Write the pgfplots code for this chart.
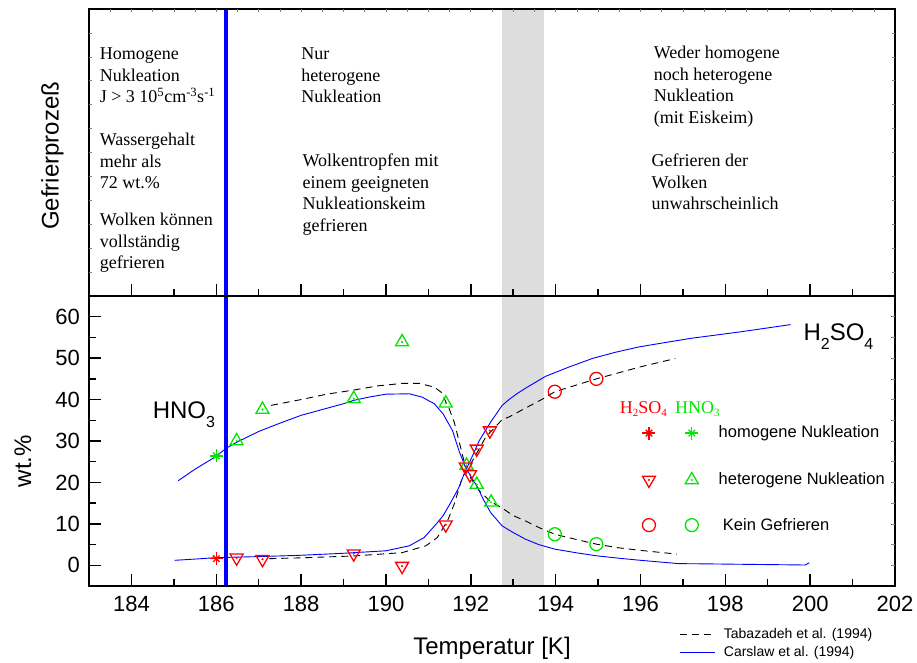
\documentclass[border=0pt]{standalone}
\usepackage{fontspec}
\setmainfont{Liberation Sans}
\newfontfamily\tnr{Liberation Serif}
\usepackage{pgfplots}
\usepackage{pgfplotstable}
\pgfplotsset{compat=1.18}
\definecolor{mygreen}{RGB}{0,230,0}
\definecolor{myred}{RGB}{255,0,0}
\definecolor{myblue}{RGB}{0,0,255}
\definecolor{band}{RGB}{221,221,221}
\newcommand{\toptext}{\tnr\fontsize{18}{21.5}\selectfont}

% Carslaw et al. (1994), HNO3
\pgfplotstableread{
x y
185.10 20.4
185.50 23.2
186.00 26.3
186.24 28.3
186.50 29.8
187.00 32.3
187.50 34.3
188.00 36.2
188.50 37.6
189.00 39.0
189.24 39.8
189.60 40.6
190.00 41.3
190.55 41.4
190.85 40.6
191.14 39.0
191.35 36.5
191.57 32.5
191.72 27.7
191.86 24.0
192.00 21.5
192.16 18.8
192.30 15.8
192.47 12.7
192.74 9.5
193.00 7.9
193.29 6.3
193.60 5.0
193.98 3.9
194.50 3.0
194.96 2.3
195.50 1.7
196.00 1.2
196.90 0.4
197.50 0.35
198.40 0.24
199.20 0.15
199.88 0.07
199.98 0.6
}\carHNO
% Carslaw et al. (1994), H2SO4
\pgfplotstableread{
x y
185.02 1.2
185.50 1.5
186.00 1.85
187.00 2.1
187.96 2.4
189.00 2.9
190.00 3.5
190.55 4.7
190.90 6.7
191.18 9.9
191.35 12.0
191.53 15.2
191.72 18.8
191.86 22.5
192.00 25.5
192.20 30.1
192.47 34.6
192.74 38.6
192.90 40.0
193.10 41.5
193.30 42.8
193.76 45.6
194.30 47.8
194.86 49.9
195.40 51.4
195.96 52.7
196.60 53.8
197.20 54.8
197.80 55.6
198.39 56.4
199.00 57.3
199.54 58.1
}\carHSO
% Tabazadeh et al. (1994), HNO3
\pgfplotstableread{
x y
187.29 38.6
188.00 40.0
188.60 41.3
189.24 42.3
189.80 43.3
190.38 43.9
190.79 43.9
191.14 43.0
191.30 41.8
191.49 37.8
191.61 34.5
191.72 30.1
191.80 26.8
191.88 23.6
192.00 21.0
192.20 18.0
192.45 15.5
192.74 13.8
193.00 12.0
193.29 10.7
193.61 9.1
193.98 7.5
194.50 6.2
194.96 5.1
195.50 4.2
196.00 3.6
196.86 2.7
}\tabHNO
% Tabazadeh et al. (1994), H2SO4
\pgfplotstableread{
x y
187.25 1.6
188.00 1.8
189.24 2.25
190.38 3.05
190.94 4.7
191.21 6.7
191.45 10.7
191.61 14.8
191.80 21.2
192.00 24.5
192.35 30.9
192.74 35.2
192.90 35.8
193.30 38.0
193.76 40.5
193.98 41.9
194.96 45.0
196.00 47.9
196.82 49.9
}\tabHSO
% measurements
\pgfplotstableread{
x y
186.48 30.0
187.09 37.6
189.24 40.2
190.38 53.9
191.41 39.1
191.90 24.1
192.14 19.5
192.48 15.2
197.21 20.6
}\greenHet
\pgfplotstableread{
x y
186.48 1.8
187.09 1.45
189.24 2.8
190.38 -0.2
191.41 9.8
191.88 23.8
191.98 21.9
192.14 28.1
192.45 32.5
196.20 20.6
}\redHet
\pgfplotstableread{
x y
186.00 26.4
197.21 31.9
}\greenHom
\pgfplotstableread{
x y
186.00 1.6
196.20 31.9
}\redHom
\pgfplotstableread{
x y
193.98 7.5
194.96 5.1
197.21 9.7
}\greenNo
\pgfplotstableread{
x y
193.98 41.9
194.96 45.0
196.20 9.7
}\redNo

\begin{document}
\begin{tikzpicture}[x=1pt,y=1pt]
\useasboundingbox (0,0) rectangle (917,662);

% ---------- bottom panel ----------
\begin{axis}[
  at={(89pt,76pt)}, anchor=south west,
  scale only axis, width=806pt, height=290pt,
  xmin=183, xmax=202, ymin=-5, ymax=65,
  axis on top,
  xtick={184,186,...,202},
  minor xtick={183,185,...,201},
  ytick={0,10,...,60},
  minor ytick={5,15,...,55},
  xtick pos=bottom, ytick pos=left,
  tick align=inside,
  major tick length=12pt, minor tick length=7pt,
  tick style={black, line width=1.5pt},
  axis line style={line width=2pt},
  /pgf/number format/assume math mode=true,
  tick label style={font=\fontsize{22}{26}\selectfont},
  xticklabel style={yshift=-6.7pt},
  yticklabel style={xshift=-5.7pt},
  xlabel={Temperatur [K]},
  ylabel={wt.\%},
  label style={font=\fontsize{24}{28}\selectfont},
  xlabel style={at={(axis description cs:0.5,0)}, anchor=base, yshift=-68pt},
  ylabel style={at={(axis description cs:-0.0819,0.431)}, anchor=center},
  legend cell align=left,
  legend image code/.code={\draw[#1] (0pt,0pt) -- (35pt,0pt);},
  legend style={at={(axis description cs:0.733,-0.197)}, anchor=west,
    draw=none, fill=none, inner sep=0pt, row sep=4pt, column sep=7pt,
    nodes={inner sep=1pt}, font=\fontsize{14}{16}\selectfont},
]
\fill[band] (axis cs:192.74,-5) rectangle (axis cs:193.72,65);
\addplot[black, line width=0.9pt, dash pattern=on 7pt off 5pt] table {\tabHNO};
\addlegendentry{Tabazadeh et al. (1994)}
\addplot[myblue, line width=0.9pt] table {\carHNO};
\addlegendentry{Carslaw et al. (1994)}
\addplot[black, line width=0.9pt, dash pattern=on 7pt off 5pt, forget plot] table {\tabHSO};
\addplot[myblue, line width=0.9pt, forget plot] table {\carHSO};
% markers
\addplot[only marks, mygreen, mark=triangle, mark size=7.5pt, mark options={line width=1.3pt}, forget plot] table {\greenHet};
\addplot[only marks, mygreen, mark=*, mark size=0.8pt, forget plot] table {\greenHet};
\addplot[only marks, myred, mark=triangle, mark size=7.5pt, mark options={line width=1.3pt, rotate=180}, forget plot] table {\redHet};
\addplot[only marks, myred, mark=*, mark size=0.8pt, forget plot] table {\redHet};
\addplot[only marks, mygreen, mark=+, mark size=6.5pt, mark options={line width=1.3pt}, forget plot] table {\greenHom};
\addplot[only marks, mygreen, mark=x, mark size=4.6pt, mark options={line width=1.3pt}, forget plot] table {\greenHom};
\addplot[only marks, myred, mark=+, mark size=6.5pt, mark options={line width=1.3pt}, forget plot] table {\redHom};
\addplot[only marks, myred, mark=x, mark size=4.6pt, mark options={line width=1.3pt}, forget plot] table {\redHom};
\addplot[only marks, mygreen, mark=o, mark size=6.5pt, mark options={line width=1.3pt}, forget plot] table {\greenNo};
\addplot[only marks, myred, mark=o, mark size=6.5pt, mark options={line width=1.3pt}, forget plot] table {\redNo};
% vertical line
\draw[myblue, line width=4pt] (axis cs:186.24,-5) -- (axis cs:186.24,65);
% labels
\node[anchor=base west, inner sep=0pt, font=\fontsize{24}{28}\selectfont] at (axis cs:184.50,35.4)
  {HNO\raisebox{-8.5pt}{\fontsize{16}{16}\selectfont 3}};
\node[anchor=base west, inner sep=0pt, font=\fontsize{24}{28}\selectfont] at (axis cs:199.84,54.2)
  {H\raisebox{-8.5pt}{\fontsize{16}{16}\selectfont 2}SO\raisebox{-8.5pt}{\fontsize{16}{16}\selectfont 4}};
\node[anchor=base west, inner sep=0pt, font=\tnr\fontsize{18}{20}\selectfont, text=myred] at (axis cs:195.51,36.7)
  {H\raisebox{-3pt}{\fontsize{11}{11}\selectfont 2}SO\raisebox{-3pt}{\fontsize{11}{11}\selectfont 4}};
\node[anchor=base west, inner sep=0pt, font=\tnr\fontsize{18}{20}\selectfont, text=mygreen] at (axis cs:196.81,36.7)
  {HNO\raisebox{-3pt}{\fontsize{11}{11}\selectfont 3}};
\node[anchor=base west, inner sep=0pt, font=\fontsize{16.5}{20}\selectfont] at (axis cs:197.84,30.8) {homogene Nukleation};
\node[anchor=base west, inner sep=0pt, font=\fontsize{16.5}{20}\selectfont] at (axis cs:197.84,19.6) {heterogene Nukleation};
\node[anchor=base west, inner sep=0pt, font=\fontsize{16.5}{20}\selectfont] at (axis cs:197.94,8.5) {Kein Gefrieren};
\end{axis}

% faint right ticks of bottom panel
\begin{axis}[
  at={(89pt,76pt)}, anchor=south west,
  scale only axis, width=806pt, height=290pt,
  xmin=183, xmax=202, ymin=-5, ymax=65,
  axis line style={draw=none},
  xtick=\empty, ytick={0,5,...,60}, ytick pos=right, yticklabels={},
  tick align=inside, major tick length=4pt,
  tick style={gray, line width=0.7pt},
]
\end{axis}

% ---------- top panel ----------
\begin{axis}[
  at={(89pt,366pt)}, anchor=south west,
  scale only axis, width=806pt, height=287pt,
  xmin=183, xmax=202, ymin=0, ymax=287,
  axis on top,
  xtick={184,186,...,202},
  minor xtick={183,185,...,201},
  xticklabels={},
  xtick pos=bottom,
  ytick=\empty,
  tick align=inside,
  major tick length=12pt, minor tick length=7pt,
  tick style={black, line width=1.5pt},
  axis line style={line width=2pt},
  ylabel={Gefrierprozeß},
  label style={font=\fontsize{24}{28}\selectfont},
  ylabel style={at={(axis description cs:-0.0453,0.488)}, anchor=center},
]
\fill[band] (axis cs:192.74,0) rectangle (axis cs:193.72,287);
\draw[myblue, line width=4pt] (axis cs:186.24,0) -- (axis cs:186.24,287);
\node[anchor=north west, inner sep=0pt, align=left, font=\toptext] at (axis cs:183.25,248)
  {Homogene\\Nukleation\\J > 3 10\textsuperscript{5}cm\textsuperscript{-3}s\textsuperscript{-1}};
\node[anchor=north west, inner sep=0pt, align=left, font=\toptext] at (axis cs:183.25,163)
  {Wassergehalt\\mehr als\\72 wt.\%};
\node[anchor=north west, inner sep=0pt, align=left, font=\toptext] at (axis cs:183.25,83)
  {Wolken können\\vollständig\\gefrieren};
\node[anchor=north west, inner sep=0pt, align=left, font=\toptext] at (axis cs:188.00,248)
  {Nur\\heterogene\\Nukleation};
\node[anchor=north west, inner sep=0pt, align=left, font=\toptext] at (axis cs:188.03,142)
  {Wolkentropfen mit\\einem geeigneten\\Nukleationskeim\\gefrieren};
\node[anchor=north west, inner sep=0pt, align=left, font=\toptext] at (axis cs:196.31,250)
  {Weder homogene\\noch heterogene\\Nukleation\\(mit Eiskeim)};
\node[anchor=north west, inner sep=0pt, align=left, font=\toptext] at (axis cs:196.26,142)
  {Gefrieren der\\Wolken\\unwahrscheinlich};
\end{axis}

% faint ticks of top panel
\begin{axis}[
  at={(89pt,366pt)}, anchor=south west,
  scale only axis, width=806pt, height=287pt,
  xmin=183, xmax=202, ymin=0, ymax=287,
  axis line style={draw=none},
  xtick={183.5,184,...,201.5}, xtick pos=top, xticklabels={},
  ytick={23.917,47.833,71.75,95.667,119.583,143.5,167.417,191.333,215.25,239.167,263.083},
  ytick pos=both, yticklabels={},
  tick align=inside, major tick length=3pt,
  tick style={gray, line width=0.6pt},
]
\end{axis}
\end{tikzpicture}
\end{document}
